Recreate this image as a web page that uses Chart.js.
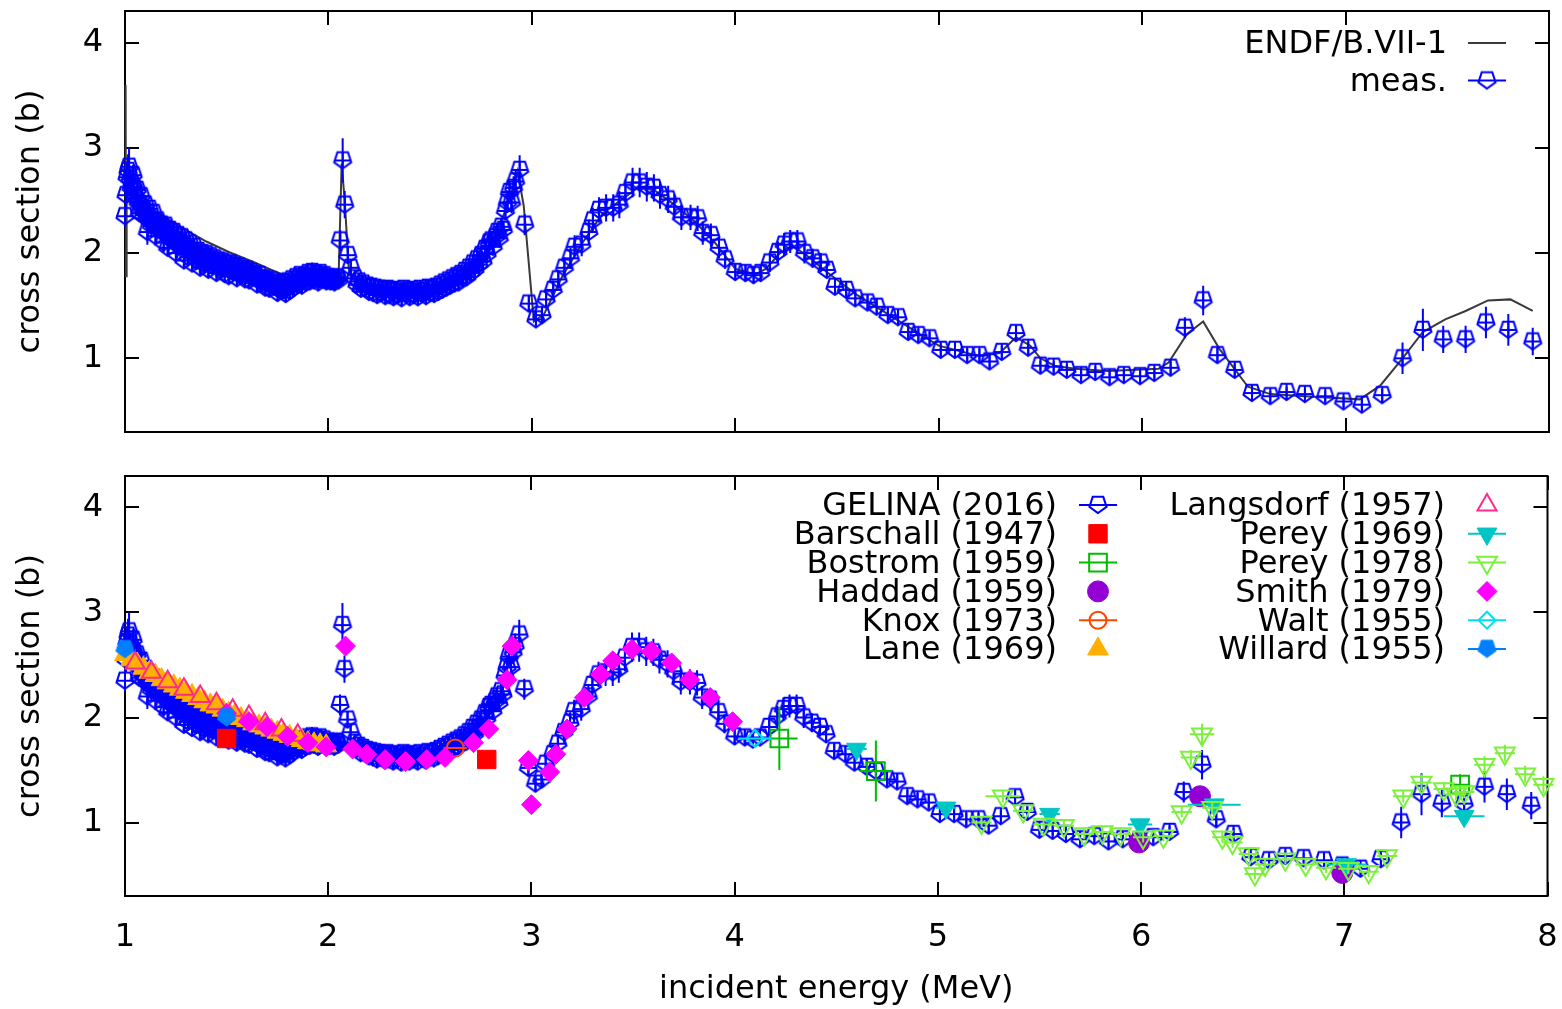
<!DOCTYPE html>
<html><head><meta charset="utf-8">
<script src="https://cdn.jsdelivr.net/npm/chart.js@4.4.0/dist/chart.umd.min.js"></script>
<style>
html,body{margin:0;padding:0;background:#fff;}
#wrap{position:relative;width:1562px;height:1009px;background:#fff;}
canvas{position:absolute;left:0;}
#c1{top:0;} #c2{top:450px;}
</style></head><body>
<div id="wrap"><canvas id="c1" width="1562" height="450"></canvas><canvas id="c2" width="1562" height="559"></canvas></div>
<script>
// ---------- DATA ----------
const xTickValues = [1,2,3,4,5,6,7,8];
const yTickValues = [1,2,3,4];

// ENDF/B.VII-1 evaluation
const endfE  = [1.000,1.003,1.005,1.008,1.02,1.05,1.10,1.165,1.28,1.40,1.51,1.64,1.72,1.77,1.80,1.85,1.90,1.95,2.00,2.05,2.065,2.08,2.10,2.12,2.20,2.30,2.40,2.50,2.60,2.70,2.80,2.88,2.93,2.96,3.01,3.06,3.15,3.25,3.35,3.45,3.52,3.60,3.70,3.80,3.90,4.00,4.10,4.15,4.22,4.28,4.35,4.45,4.60,4.75,4.90,5.00,5.20,5.30,5.38,5.45,5.50,5.57,5.67,5.83,6.08,6.13,6.22,6.30,6.38,6.52,6.63,6.80,7.07,7.17,7.28,7.38,7.49,7.59,7.70,7.81,7.92];
const endfXS = [2.40,3.60,1.78,2.70,2.75,2.58,2.46,2.38,2.24,2.11,2.01,1.91,1.84,1.80,1.76,1.74,1.76,1.76,1.75,1.78,2.85,2.50,1.85,1.75,1.66,1.62,1.61,1.62,1.68,1.82,2.08,2.45,2.78,2.45,1.35,1.42,1.78,2.10,2.38,2.52,2.62,2.60,2.46,2.30,2.10,1.85,1.80,1.85,2.00,2.07,1.98,1.82,1.60,1.42,1.24,1.12,1.02,1.05,1.20,1.12,1.00,0.93,0.90,0.88,0.90,0.96,1.23,1.35,1.09,0.73,0.66,0.64,0.61,0.74,1.00,1.25,1.37,1.45,1.55,1.56,1.45];

// GELINA (2016) - dense band 1.00-2.05 MeV (whole steps)
const bandE = [1.00,1.01,1.02,1.03,1.04,1.05,1.06,1.07,1.08,1.09,
1.10,1.11,1.12,1.13,1.14,1.15,1.16,1.17,1.18,1.19,
1.20,1.21,1.22,1.23,1.24,1.25,1.26,1.27,1.28,1.29,
1.30,1.31,1.32,1.33,1.34,1.35,1.36,1.37,1.38,1.39,
1.40,1.41,1.42,1.43,1.44,1.45,1.46,1.47,1.48,1.49,
1.50,1.51,1.52,1.53,1.54,1.55,1.56,1.57,1.58,1.59,
1.60,1.61,1.62,1.63,1.64,1.65,1.66,1.67,1.68,1.69,
1.70,1.71,1.72,1.73,1.74,1.75,1.76,1.77,1.78,1.79,
1.80,1.81,1.82,1.83,1.84,1.85,1.86,1.87,1.88,1.89,
1.90,1.91,1.92,1.93,1.94,1.95,1.96,1.97,1.98,1.99,
2.00,2.01,2.02,2.03,2.04,2.05];
const bandXS = [2.35,2.72,2.82,2.62,2.74,2.55,2.60,2.38,2.54,2.36,
2.46,2.20,2.42,2.26,2.38,2.16,2.31,2.22,2.27,2.10,
2.26,2.05,2.22,2.12,2.20,2.00,2.17,2.06,2.15,1.93,
2.12,1.96,2.09,1.90,2.06,1.94,2.02,1.86,2.00,1.89,
1.99,1.84,1.97,1.88,1.95,1.81,1.93,1.85,1.92,1.80,
1.90,1.78,1.90,1.82,1.88,1.76,1.87,1.79,1.85,1.75,
1.84,1.74,1.82,1.77,1.80,1.70,1.79,1.72,1.76,1.67,
1.75,1.66,1.74,1.68,1.72,1.62,1.71,1.64,1.72,1.61,
1.73,1.64,1.75,1.67,1.77,1.70,1.79,1.69,1.78,1.72,
1.81,1.73,1.82,1.74,1.80,1.72,1.81,1.75,1.79,1.73,
1.77,1.73,1.76,1.72,1.77,1.74];
const bandErr = [0.10,0.15,0.18,0.12,0.10,0.09,0.12,0.08,0.11,0.09,
0.08,0.12,0.07,0.10,0.09,0.08,0.07,0.07,0.07,0.09,
0.07,0.07,0.07,0.08,0.07,0.09,0.07,0.07,0.07,0.08,
0.07,0.08,0.07,0.07,0.07,0.10,0.07,0.07,0.07,0.08,
0.07,0.07,0.07,0.08,0.07,0.07,0.07,0.08,0.07,0.07,
0.09,0.07,0.08,0.07,0.10,0.06,0.08,0.07,0.09,0.06,
0.08,0.06,0.09,0.07,0.08,0.06,0.08,0.07,0.08,0.06,
0.07,0.06,0.08,0.06,0.07,0.06,0.08,0.06,0.07,0.06,
0.07,0.06,0.08,0.06,0.09,0.07,0.08,0.06,0.09,0.07,
0.08,0.06,0.09,0.07,0.08,0.06,0.08,0.07,0.08,0.06,
0.07,0.06,0.08,0.06,0.07,0.06];

// GELINA (2016) - dense band 1.00-2.05 MeV (half steps)
const bandMidE = [1.005,1.015,1.025,1.035,1.045,1.055,1.065,1.075,1.085,1.095,
1.105,1.115,1.125,1.135,1.145,1.155,1.165,1.175,1.185,1.195,
1.205,1.215,1.225,1.235,1.245,1.255,1.265,1.275,1.285,1.295,
1.305,1.315,1.325,1.335,1.345,1.355,1.365,1.375,1.385,1.395,
1.405,1.415,1.425,1.435,1.445,1.455,1.465,1.475,1.485,1.495,
1.505,1.515,1.525,1.535,1.545,1.555,1.565,1.575,1.585,1.595,
1.605,1.615,1.625,1.635,1.645,1.655,1.665,1.675,1.685,1.695,
1.705,1.715,1.725,1.735,1.745,1.755,1.765,1.775,1.785,1.795,
1.805,1.815,1.825,1.835,1.845,1.855,1.865,1.875,1.885,1.895,
1.905,1.915,1.925,1.935,1.945,1.955,1.965,1.975,1.985,1.995,
2.005,2.015,2.025,2.035,2.045];
const bandMidXS = [2.55,2.78,2.70,2.66,2.62,2.52,2.48,2.46,2.42,2.40,
2.34,2.32,2.30,2.31,2.26,2.27,2.24,2.25,2.20,2.22,
2.18,2.15,2.17,2.14,2.11,2.12,2.10,2.09,2.06,2.05,
2.04,2.03,2.01,1.99,2.00,1.97,1.95,1.96,1.94,1.95,
1.93,1.92,1.91,1.92,1.89,1.88,1.89,1.87,1.86,1.87,
1.85,1.84,1.85,1.83,1.82,1.83,1.81,1.82,1.80,1.79,
1.80,1.78,1.77,1.78,1.76,1.75,1.74,1.75,1.72,1.71,
1.71,1.70,1.69,1.70,1.67,1.66,1.67,1.66,1.65,1.67,
1.68,1.69,1.70,1.71,1.71,1.73,1.74,1.74,1.75,1.76,
1.76,1.77,1.76,1.77,1.76,1.75,1.76,1.75,1.76,1.74,
1.75,1.74,1.75,1.74,1.76];
const bandMidErr = [0.12,0.16,0.10,0.09,0.11,0.08,0.10,0.07,0.09,0.08,
0.07,0.09,0.08,0.07,0.10,0.07,0.08,0.06,0.09,0.07,
0.08,0.07,0.06,0.08,0.07,0.06,0.09,0.07,0.06,0.08,
0.07,0.06,0.08,0.07,0.06,0.08,0.07,0.06,0.08,0.07,
0.06,0.08,0.07,0.06,0.08,0.07,0.06,0.08,0.07,0.06,
0.08,0.07,0.06,0.08,0.07,0.06,0.08,0.07,0.06,0.08,
0.07,0.06,0.08,0.07,0.06,0.08,0.07,0.06,0.08,0.07,
0.06,0.08,0.07,0.06,0.08,0.07,0.06,0.08,0.07,0.06,
0.08,0.07,0.06,0.08,0.07,0.06,0.08,0.07,0.06,0.08,
0.07,0.06,0.08,0.07,0.06,0.08,0.07,0.06,0.08,0.07,
0.06,0.08,0.07,0.06,0.08];

// GELINA (2016) - dense band 2.13-2.79 MeV
const band2E = [2.13,2.14,2.15,2.16,2.17,2.18,2.19,2.20,2.21,2.22,
2.23,2.24,2.25,2.26,2.27,2.28,2.29,2.30,2.31,2.32,
2.33,2.34,2.35,2.36,2.37,2.38,2.39,2.40,2.41,2.42,
2.43,2.44,2.45,2.46,2.47,2.48,2.49,2.50,2.51,2.52,
2.53,2.54,2.55,2.56,2.57,2.58,2.59,2.60,2.61,2.62,
2.63,2.64,2.65,2.66,2.67,2.68,2.69,2.70,2.71,2.72,
2.73,2.74,2.75,2.76,2.77,2.78,2.79];
const band2XS = [1.76,1.70,1.73,1.66,1.71,1.67,1.69,1.63,1.68,1.62,
1.67,1.60,1.66,1.62,1.65,1.59,1.66,1.60,1.64,1.58,
1.65,1.60,1.63,1.57,1.66,1.61,1.64,1.58,1.65,1.60,
1.63,1.58,1.66,1.61,1.64,1.59,1.67,1.62,1.66,1.61,
1.68,1.63,1.70,1.65,1.72,1.67,1.74,1.69,1.76,1.71,
1.78,1.72,1.80,1.76,1.83,1.77,1.86,1.81,1.90,1.84,
1.94,1.89,1.98,1.92,2.04,1.99,2.10];
const band2Err = [0.07,0.06,0.08,0.06,0.07,0.06,0.08,0.06,0.07,0.06,
0.08,0.06,0.07,0.06,0.08,0.06,0.07,0.06,0.08,0.06,
0.07,0.06,0.08,0.06,0.07,0.06,0.08,0.06,0.07,0.06,
0.08,0.06,0.07,0.06,0.08,0.06,0.07,0.06,0.08,0.06,
0.07,0.06,0.08,0.06,0.08,0.07,0.08,0.07,0.09,0.07,
0.08,0.07,0.09,0.07,0.08,0.07,0.09,0.07,0.08,0.07,
0.09,0.08,0.09,0.08,0.10,0.08,0.10];

// GELINA (2016) - resolved points
const gelE = [2.058,2.07,2.08,2.095,2.11,2.80,2.81,2.82,2.83,2.84,2.85,2.86,2.87,2.88,2.89,2.90,2.91,2.92,2.94,2.965,
2.985,3.02,3.05,3.07,3.105,3.13,3.16,3.19,3.21,3.245,3.28,3.30,3.33,3.365,3.40,3.43,3.46,3.495,3.53,3.565,
3.60,3.63,3.67,3.70,3.735,3.78,3.815,3.84,3.88,3.92,3.95,4.00,4.05,4.09,4.125,4.17,4.21,4.24,4.27,4.305,
4.34,4.38,4.42,4.45,4.49,4.545,4.59,4.65,4.695,4.75,4.80,4.85,4.90,4.955,5.01,5.08,5.14,5.20,5.25,5.31,
5.38,5.44,5.50,5.565,5.63,5.70,5.77,5.84,5.91,5.99,6.06,6.14,6.21,6.30,6.37,6.455,6.54,6.63,6.71,6.80,
6.90,6.99,7.08,7.18,7.28,7.38,7.48,7.59,7.69,7.80,7.92];
const gelXS = [2.12,2.88,2.46,1.98,1.86,2.12,2.06,2.15,2.20,2.14,2.25,2.22,2.40,2.48,2.58,2.48,2.62,2.68,2.79,2.27,
1.52,1.37,1.41,1.56,1.65,1.75,1.86,1.95,2.06,2.08,2.20,2.31,2.41,2.43,2.43,2.46,2.57,2.67,2.67,2.63,
2.62,2.55,2.51,2.44,2.34,2.34,2.33,2.19,2.17,2.05,1.94,1.82,1.81,1.79,1.81,1.91,2.01,2.08,2.11,2.11,
2.00,1.95,1.91,1.84,1.68,1.65,1.57,1.53,1.49,1.41,1.39,1.25,1.22,1.19,1.08,1.08,1.03,1.03,0.97,1.06,
1.24,1.10,0.93,0.92,0.89,0.84,0.87,0.82,0.84,0.83,0.86,0.91,1.29,1.55,1.03,0.89,0.67,0.64,0.68,0.66,
0.64,0.59,0.56,0.65,1.00,1.27,1.18,1.18,1.34,1.27,1.16];
const gelErr = [0.10,0.21,0.13,0.08,0.08,0.08,0.08,0.08,0.08,0.08,0.08,0.09,0.09,0.10,0.10,0.10,0.11,0.12,0.14,0.10,
0.08,0.08,0.08,0.08,0.09,0.09,0.10,0.10,0.11,0.11,0.12,0.12,0.12,0.13,0.13,0.13,0.13,0.14,0.14,0.14,
0.13,0.13,0.13,0.12,0.12,0.12,0.12,0.11,0.11,0.10,0.09,0.08,0.08,0.08,0.08,0.09,0.10,0.11,0.11,0.11,
0.10,0.09,0.09,0.08,0.07,0.07,0.07,0.07,0.07,0.07,0.07,0.06,0.06,0.06,0.06,0.06,0.06,0.06,0.06,0.06,
0.07,0.06,0.05,0.05,0.05,0.05,0.05,0.05,0.05,0.05,0.05,0.06,0.10,0.14,0.07,0.06,0.05,0.05,0.05,0.05,
0.05,0.05,0.05,0.06,0.15,0.20,0.13,0.13,0.15,0.15,0.13];

// other measurements
const barschallE = [1.50,2.78];            const barschallXS = [1.80,1.60];
const bostromE = [4.22,4.695,7.57];        const bostromXS = [1.80,1.49,1.36];
const bostromDE = [0.09,0.08,0.05];        const bostromDXS = [0.30,0.29,0.10];
const haddadE = [5.99,6.29,6.99];          const haddadXS = [0.81,1.25,0.52];
const knoxE = [2.625];                     const knoxXS = [1.71];  const knoxDE = [0.057];
const laneE = [1.00,1.03,1.06,1.09,1.12,1.15,1.18,1.21,1.24,1.27,1.30,1.33,1.36,1.39,1.42,1.45,1.48,1.51,1.54,1.57,1.60,1.63,1.66,1.69,1.72,1.75,1.78,1.81,1.84,1.87,1.90,1.93,1.96,1.99];
const laneXS = [2.60,2.55,2.51,2.47,2.43,2.40,2.36,2.33,2.30,2.27,2.24,2.21,2.18,2.15,2.12,2.10,2.07,2.04,2.02,1.99,1.97,1.94,1.92,1.90,1.88,1.86,1.84,1.82,1.80,1.78,1.76,1.75,1.74,1.73];
const langsdorfE = [1.05,1.13,1.21,1.29,1.37,1.45,1.53,1.61,1.69,1.77,1.85];
const langsdorfXS = [2.52,2.43,2.34,2.27,2.20,2.13,2.07,2.01,1.94,1.88,1.83];
const perey69E = [4.60,5.04,5.55,5.995,6.36,7.01,7.59];
const perey69XS = [1.70,1.14,1.08,0.98,1.17,0.60,1.06];
const perey69DE = [0.05,0.05,0.05,0.06,0.13,0.10,0.10];
const perey78E = [5.215,5.32,5.42,5.52,5.62,5.72,5.81,5.90,6.01,6.11,6.20,6.245,6.30,6.35,6.40,6.45,6.53,6.56,6.61,6.71,6.81,6.91,7.02,7.12,7.21,7.29,7.38,7.49,7.55,7.59,7.69,7.79,7.89,7.98];
const perey78XS = [1.00,1.25,1.11,0.98,0.97,0.89,0.91,0.89,0.86,0.87,1.10,1.62,1.84,1.14,0.86,0.81,0.70,0.51,0.60,0.65,0.60,0.57,0.56,0.53,0.68,1.25,1.38,1.32,1.27,1.29,1.55,1.66,1.46,1.36];
const perey78DE = [0.05,0.085,0.05,0.05,0.05,0.05,0.05,0.05,0.05,0.05,0.05,0.05,0.06,0.05,0.05,0.05,0.05,0.05,0.05,0.05,0.05,0.05,0.05,0.05,0.05,0.05,0.05,0.05,0.05,0.05,0.05,0.05,0.05,0.05];
const perey78DXS = [0.05,0.06,0.06,0.05,0.05,0.05,0.05,0.05,0.05,0.05,0.05,0.07,0.10,0.06,0.05,0.05,0.05,0.05,0.05,0.05,0.05,0.05,0.05,0.05,0.05,0.06,0.08,0.06,0.06,0.06,0.08,0.08,0.08,0.08];
const smithE = [1.50,1.61,1.70,1.80,1.90,1.99,2.085,2.12,2.19,2.28,2.38,2.485,2.575,2.715,2.79,2.88,2.905,2.985,3.00,3.09,3.12,3.175,3.26,3.34,3.40,3.495,3.59,3.69,3.78,3.88,3.99];
const smithXS = [2.04,1.96,1.91,1.82,1.76,1.72,2.68,1.70,1.65,1.60,1.58,1.60,1.62,1.76,1.89,2.36,2.68,1.59,1.17,1.48,1.65,1.89,2.19,2.41,2.54,2.65,2.63,2.52,2.36,2.19,1.96];
const waltE = [4.10];      const waltXS = [1.80];   const waltDE = [0.08];
const willardE = [1.00,1.50]; const willardXS = [2.65,2.00]; const willardDE = [0.02,0.02];

// ---------- helpers ----------
const FONT = 'DejaVu Sans';
Chart.defaults.font.family = FONT;
Chart.defaults.color = '#000';
function pts(E, V) { return E.map((e, i) => ({x: e, y: V[i]})); }

function pentagon(color, filled, R, lw, cross) {
  const s = Math.ceil(2 * R + 2 * lw + 2);
  const c = document.createElement('canvas'); c.width = s; c.height = s;
  const g = c.getContext('2d'); const cx = s / 2, cy = s / 2 - R * 0.1;
  g.beginPath();
  for (let k = 0; k < 5; k++) {
    const a = Math.PI / 2 + k * 2 * Math.PI / 5;
    const px = cx + R * Math.cos(a), py = cy + R * Math.sin(a);
    if (k) g.lineTo(px, py); else g.moveTo(px, py);
  }
  g.closePath();
  if (filled) { g.fillStyle = color; g.fill(); }
  g.strokeStyle = color; g.lineWidth = lw; g.lineJoin = 'miter'; g.stroke();
  if (cross) {
    g.beginPath();
    g.moveTo(s / 2 - R * 0.95, s / 2); g.lineTo(s / 2 + R * 0.95, s / 2);
    g.moveTo(s / 2, cy - R * 0.8); g.lineTo(s / 2, cy + R);
    g.stroke();
  }
  return c;
}
const gelMarker = pentagon('#0000ff', false, 9, 2, true);
const gelKeyMarker = pentagon('#0000ff', false, 9, 2, false);
const willardMarker = pentagon('#0080ff', true, 9.5, 1, false);

const BLUE = '#0000ff';
function gelinaDataset(label) {
  const E = bandE.concat(bandMidE, band2E, gelE);
  const V = bandXS.concat(bandMidXS, band2XS, gelXS);
  const err = bandErr.concat(bandMidErr, band2Err, gelErr);
  return {label, data: pts(E, V), errY: err, errColor: BLUE, errWidth: 2,
    pointStyle: gelMarker, keyStyle: gelKeyMarker, pointRadius: 9, borderColor: BLUE, backgroundColor: BLUE, borderWidth: 2, clip: false};
}

// ---------- plugins ----------
const framePlugin = {
  id: 'frame',
  beforeDatasetsDraw(chart) {
    const {ctx, chartArea: a, scales: {x, y}} = chart;
    ctx.save(); ctx.strokeStyle = '#000'; ctx.lineWidth = 2;
    ctx.strokeRect(a.left, a.top, a.right - a.left, a.bottom - a.top);
    ctx.beginPath();
    x.ticks.forEach(t => { const p = Math.round(x.getPixelForValue(t.value));
      ctx.moveTo(p, a.bottom); ctx.lineTo(p, a.bottom - 14); ctx.moveTo(p, a.top); ctx.lineTo(p, a.top + 14); });
    y.ticks.forEach(t => { const p = Math.round(y.getPixelForValue(t.value));
      ctx.moveTo(a.left, p); ctx.lineTo(a.left + 14, p); ctx.moveTo(a.right, p); ctx.lineTo(a.right - 14, p); });
    ctx.stroke(); ctx.restore();
  }
};
const errorBarPlugin = {
  id: 'errbars',
  beforeDatasetDraw(chart, args) {
    const ds = chart.data.datasets[args.index];
    if (!ds.errY && !ds.errX) return;
    const xs = chart.scales.x, ys = chart.scales.y, ctx = chart.ctx;
    ctx.save(); ctx.strokeStyle = ds.errColor || ds.borderColor; ctx.lineWidth = ds.errWidth || 2;
    ctx.beginPath();
    ds.data.forEach((p, i) => {
      const px = xs.getPixelForValue(p.x), py = ys.getPixelForValue(p.y);
      const ey = ds.errY ? ds.errY[i] : 0, ex = ds.errX ? ds.errX[i] : 0;
      if (ey) { ctx.moveTo(px, ys.getPixelForValue(p.y + ey)); ctx.lineTo(px, ys.getPixelForValue(p.y - ey)); }
      if (ex) { ctx.moveTo(xs.getPixelForValue(p.x - ex), py); ctx.lineTo(xs.getPixelForValue(p.x + ex), py); }
    });
    ctx.stroke(); ctx.restore();
  }
};
const keyPlugin = {
  id: 'key',
  afterDatasetsDraw(chart, args, opts) {
    const ctx = chart.ctx;
    (opts.entries || []).forEach(en => {
      const ds = chart.data.datasets[en.ds];
      ctx.save();
      ctx.font = '32px "' + FONT + '"'; ctx.fillStyle = '#000';
      ctx.textAlign = 'right'; ctx.textBaseline = 'middle';
      ctx.fillText(ds.label, en.tx, en.y + 2);
      if (ds.showLine || ds.errY || ds.errX) {
        ctx.strokeStyle = ds.showLine ? ds.borderColor : (ds.errColor || ds.borderColor);
        ctx.lineWidth = ds.showLine ? ds.borderWidth : (ds.errWidth || 2);
        ctx.beginPath(); ctx.moveTo(en.sx - 19, en.y); ctx.lineTo(en.sx + 19, en.y); ctx.stroke();
      }
      if (ds.pointRadius > 0) {
        ctx.fillStyle = ds.backgroundColor; ctx.strokeStyle = ds.borderColor; ctx.lineWidth = ds.borderWidth;
        Chart.helpers.drawPoint(ctx, {pointStyle: ds.keyStyle || ds.pointStyle, rotation: ds.pointRotation || 0,
          radius: ds.pointRadius, borderWidth: ds.borderWidth}, en.sx, en.y);
      }
      ctx.restore();
    });
  }
};

function zeroPad(s) { s.paddingTop = 0; s.paddingBottom = 0; s.paddingLeft = 0; s.paddingRight = 0; }
function scales(showX, xHeight) {
  return {
    x: {type: 'linear', min: 1, max: 8,
      afterBuildTicks: s => { s.ticks = xTickValues.map(v => ({value: v})); },
      afterFit: s => { s.height = xHeight; zeroPad(s); },
      grid: {display: false, drawTicks: false}, border: {display: false},
      ticks: {display: showX, padding: 22, font: {family: FONT, size: 32}, color: '#000', callback: v => String(v), maxRotation: 0},
      title: {display: showX, text: 'incident energy (MeV)', font: {family: FONT, size: 32}, color: '#000', padding: {top: 0, bottom: 0}}},
    y: {type: 'linear', min: 0.3, max: 4.3,
      afterBuildTicks: s => { s.ticks = yTickValues.map(v => ({value: v})); },
      afterFit: s => { s.width = 125; zeroPad(s); },
      grid: {display: false, drawTicks: false}, border: {display: false},
      ticks: {padding: 22, font: {family: FONT, size: 32}, color: '#000', callback: v => String(v)},
      title: {display: true, text: 'cross section (b)', font: {family: FONT, size: 32}, color: '#000', padding: {top: 11, bottom: 0}}}
  };
}
const common = {responsive: false, animation: false, devicePixelRatio: 1, events: []};

// ---------- top panel ----------
new Chart(document.getElementById('c1'), {
  type: 'scatter',
  data: {datasets: [
    {label: 'ENDF/B.VII-1', data: pts(endfE, endfXS), showLine: true, pointRadius: 0, borderColor: '#3a3a3a', backgroundColor: '#3a3a3a', borderWidth: 2, order: 30, clip: false},
    Object.assign(gelinaDataset('meas.'), {order: 20})
  ]},
  options: Object.assign({}, common, {
    layout: {padding: {top: 11, right: 13, left: 0, bottom: 0}},
    scales: scales(false, 18),
    plugins: {legend: {display: false}, tooltip: {enabled: false},
      key: {entries: [{ds: 0, tx: 1447, sx: 1487, y: 43}, {ds: 1, tx: 1447, sx: 1487, y: 80.5}]}}
  }),
  plugins: [framePlugin, errorBarPlugin, keyPlugin]
});

// ---------- bottom panel ----------
const T = 'transparent';
const ds2 = [
  Object.assign(gelinaDataset('GELINA (2016)'), {order: 12}),
  {label: 'Barschall (1947)', data: pts(barschallE, barschallXS), pointStyle: 'rect', pointRadius: 13, backgroundColor: '#ff0000', borderColor: '#ff0000', borderWidth: 1, order: 11},
  {label: 'Bostrom (1959)', data: pts(bostromE, bostromXS), errX: bostromDE, errY: bostromDXS, pointStyle: 'rect', pointRadius: 12.5, backgroundColor: T, borderColor: '#00bb00', borderWidth: 2, order: 10},
  {label: 'Haddad (1959)', data: pts(haddadE, haddadXS), pointStyle: 'circle', pointRadius: 10.5, backgroundColor: '#9400d3', borderColor: '#9400d3', borderWidth: 1, order: 9},
  {label: 'Knox (1973)', data: pts(knoxE, knoxXS), errX: knoxDE, pointStyle: 'circle', pointRadius: 8.5, backgroundColor: T, borderColor: '#ff4500', borderWidth: 2, order: 8},
  {label: 'Lane (1969)', data: pts(laneE, laneXS), pointStyle: 'triangle', pointRadius: 12, backgroundColor: '#ffb000', borderColor: '#ffb000', borderWidth: 1, order: 7},
  {label: 'Langsdorf (1957)', data: pts(langsdorfE, langsdorfXS), pointStyle: 'triangle', pointRadius: 11, backgroundColor: T, borderColor: '#ff2a8c', borderWidth: 2, order: 6},
  {label: 'Perey (1969)', data: pts(perey69E, perey69XS), errX: perey69DE, pointStyle: 'triangle', pointRotation: 180, pointRadius: 11.5, backgroundColor: '#00c5c5', borderColor: '#00c5c5', borderWidth: 1, errWidth: 2, order: 5},
  {label: 'Perey (1978)', data: pts(perey78E, perey78XS), errX: perey78DE, errY: perey78DXS, pointStyle: 'triangle', pointRotation: 180, pointRadius: 11.5, backgroundColor: T, borderColor: '#7cf03c', borderWidth: 2, order: 4},
  {label: 'Smith (1979)', data: pts(smithE, smithXS), pointStyle: 'rectRot', pointRadius: 10, backgroundColor: '#ff00ff', borderColor: '#ff00ff', borderWidth: 1, order: 3},
  {label: 'Walt (1955)', data: pts(waltE, waltXS), errX: waltDE, pointStyle: 'rectRot', pointRadius: 8.5, backgroundColor: T, borderColor: '#00e0f0', borderWidth: 2, order: 2},
  {label: 'Willard (1955)', data: pts(willardE, willardXS), errX: willardDE, pointStyle: willardMarker, pointRadius: 9.5, backgroundColor: '#0080ff', borderColor: '#0080ff', borderWidth: 1, errWidth: 2, order: 1}
];
ds2.forEach(d => { d.clip = false; });
const rowY = [55, 83.8, 112.6, 141.4, 170.2, 199];
const keyEntries = [];
for (let i = 0; i < 6; i++) keyEntries.push({ds: i, tx: 1057, sx: 1098, y: rowY[i]});
for (let i = 0; i < 6; i++) keyEntries.push({ds: i + 6, tx: 1445, sx: 1487, y: rowY[i]});

new Chart(document.getElementById('c2'), {
  type: 'scatter',
  data: {datasets: ds2},
  options: Object.assign({}, common, {
    layout: {padding: {top: 26, right: 13, left: 0, bottom: 0}},
    scales: scales(true, 113),
    plugins: {legend: {display: false}, tooltip: {enabled: false}, key: {entries: keyEntries}}
  }),
  plugins: [framePlugin, errorBarPlugin, keyPlugin]
});
</script>
</body></html>
